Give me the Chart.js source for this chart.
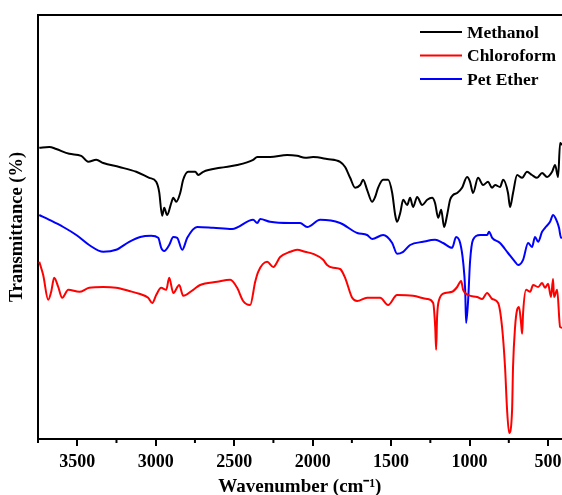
<!DOCTYPE html>
<html>
<head>
<meta charset="utf-8">
<script src="https://cdn.jsdelivr.net/npm/chart.js@4.4.0/dist/chart.umd.min.js"></script>
<style>
  body { margin: 0; background: #fff; }
  #wrap { width: 562px; height: 495px; }
</style>
</head>
<body>
<div id="wrap"><canvas id="ftirCanvas"></canvas></div>
<script>
// FTIR spectra (wavenumber in cm-1, transmittance in arbitrary %)
const methanolWn = [3742,3678,3634,3551,3475,3430,3379,3334,3232,3124,3041,2997,2978,2959,2946,2927,2901,2888,2869,2844,2825,2793,2748,2729,2697,2589,2481,2379,2353,2271,2162,2099,2048,1997,1908,1825,1793,1761,1729,1697,1678,1653,1621,1602,1583,1551,1519,1493,1474,1462,1442,1423,1398,1379,1360,1334,1302,1270,1239,1220,1200,1181,1162,1143,1124,1105,1079,1048,1016,997,978,946,914,882,857,837,806,786,755,742,723,697,665,634,602,570,538,506,474,455,436,423,411];
const methanolT = [72.8,73,72.5,71.3,70.8,69.3,69.8,69,68,66.8,65.3,64.3,61.8,55.8,57.8,56,59,60.3,59.3,61.5,64.8,66.8,66.8,66,66.8,67.8,68.5,69.8,70.5,70.5,71,70.8,70.3,70.5,70,69.3,68,65.3,62.8,63.5,64.8,62.3,59.3,60.5,62.8,64.8,64.8,61.5,56,54.3,56.5,59.8,58.5,60.3,58,60.5,58.5,59.8,60.3,59,55.3,57.3,53,56,59.8,61,61.5,62.8,65.5,64.3,61.5,65.3,63.5,64.3,62.8,63.5,63,64.8,61.5,58,61.5,66,65.3,66.8,66,65.3,66.5,65.5,66.8,68.5,65.5,74,73.5];

const chloroformWn = [3742,3717,3685,3666,3647,3621,3596,3557,3487,3424,3334,3252,3169,3105,3048,3022,2997,2965,2933,2914,2888,2850,2825,2761,2717,2608,2525,2481,2443,2398,2366,2347,2290,2251,2207,2143,2099,2048,1997,1933,1908,1869,1825,1793,1748,1716,1653,1570,1519,1462,1360,1270,1232,1219,1213,1207,1194,1156,1111,1079,1054,1041,1009,952,920,888,856,818,793,774,761,748,729,723,710,697,685,672,665,659,640,614,595,563,538,519,500,481,468,462,442,423,411];
const chloroformT = [44.3,41,34.8,36.8,40.3,38,35.3,37.3,36.8,37.8,38,37.8,37,36.3,35.3,34,36,37.8,37.3,40.3,36.5,38.5,35.8,37.3,38.5,39.3,39.8,37.8,34.5,33.5,39.3,41.8,44.3,43,45.5,46.8,47.3,46.8,46.3,44.8,43.5,42.8,42.5,40.3,35.3,34.5,35.3,35.3,33.5,36,35.8,35,34,28,22.3,30.5,34.8,36.5,36.8,38,39.5,37.3,36,35.5,35,36.5,35,34,28,18,7.3,1.5,7.3,18,28,32.3,33,29,26.3,31.5,37.3,36.8,38.5,38,39,37.8,38.8,35.5,40,35.5,37.3,28,27.8];

const petEtherWn = [3742,3678,3589,3506,3424,3334,3252,3169,3099,3029,2984,2965,2946,2914,2888,2863,2831,2799,2736,2634,2513,2379,2353,2334,2271,2143,2080,2035,1952,1825,1716,1653,1621,1551,1493,1462,1423,1379,1296,1220,1169,1111,1086,1060,1041,1028,1022,1009,997,978,933,888,876,856,806,755,710,691,659,627,602,583,563,538,519,487,468,442,430,417,411];
const petEtherT = [56,54.8,53,51,48.5,46.8,47.3,49.3,50.5,50.8,50.3,47.8,47,48.5,50.5,50.3,47.3,50.3,53,52.8,52.5,54.8,54,55,54.3,54,54,53,54.8,54,51.5,51,50,51,49,46.3,46.8,48.5,49.3,49.8,49,47.8,50.5,49,44.3,37.3,29,34.8,44.3,49.8,51,51,51.8,50.3,49,46.5,44.3,43.5,44.8,49,48,50.5,49.3,51.8,52.8,54.3,56,54.3,52.8,50.3,50.5];

const majorTicks = [500, 1000, 1500, 2000, 2500, 3000, 3500];
const minorTicks = [750, 1250, 1750, 2250, 2750, 3250, 3750];

function toPoints(xs, ys) {
  return xs.map((x, i) => ({ x: x, y: ys[i] }));
}

const serif = "'Liberation Serif', 'Times New Roman', serif";

// petite légende dans le coin haut droit
const cornerLegend = {
  id: 'cornerLegend',
  afterDraw(chart) {
    const ctx = chart.ctx;
    ctx.save();
    ctx.font = "bold 17.5px " + serif;
    ctx.textBaseline = 'middle';
    chart.data.datasets.forEach((ds, i) => {
      const y = 32 + i * 23.5;
      ctx.strokeStyle = ds.borderColor;
      ctx.lineWidth = 2;
      ctx.beginPath();
      ctx.moveTo(420, y);
      ctx.lineTo(462, y);
      ctx.stroke();
      ctx.fillStyle = '#000';
      ctx.fillText(ds.label, 467, y + 1);
    });
    ctx.restore();
  }
};

// petites graduations intermédiaires
const minorTickMarks = {
  id: 'minorTickMarks',
  afterDraw(chart) {
    const xs = chart.scales.x;
    const ctx = chart.ctx;
    ctx.save();
    ctx.strokeStyle = '#000';
    ctx.lineWidth = 2;
    minorTicks.forEach(v => {
      const px = xs.getPixelForValue(v);
      if (px < chart.chartArea.left) return;
      ctx.beginPath();
      ctx.moveTo(px, chart.chartArea.bottom);
      ctx.lineTo(px, chart.chartArea.bottom + 4);
      ctx.stroke();
    });
    ctx.restore();
  }
};

const ftirChart = new Chart(document.getElementById('ftirCanvas'), {
  type: 'line',
  data: {
    datasets: [
      { label: 'Methanol', data: toPoints(methanolWn, methanolT), borderColor: '#000000' },
      { label: 'Chloroform', data: toPoints(chloroformWn, chloroformT), borderColor: '#ff0000' },
      { label: 'Pet Ether', data: toPoints(petEtherWn, petEtherT), borderColor: '#0000ff' }
    ]
  },
  options: {
    responsive: true,
    maintainAspectRatio: false,
    animation: false,
    layout: { padding: { top: 15, right: 0, bottom: -2, left: 6.5 } },
    elements: {
      point: { radius: 0 },
      line: { borderWidth: 2, tension: 0.3, cubicInterpolationMode: 'monotone', fill: false }
    },
    plugins: { legend: { display: false }, tooltip: { enabled: false } },
    scales: {
      x: {
        type: 'linear',
        reverse: true,
        min: 411,
        max: 3752,
        afterBuildTicks: (scale) => { scale.ticks = majorTicks.map(v => ({ value: v })); },
        ticks: {
          color: '#000',
          font: { family: serif, size: 18, weight: 'bold', lineHeight: 1 },
          padding: 7,
          maxRotation: 0,
          callback: (v) => String(v)
        },
        grid: { drawOnChartArea: false, tickLength: 7, lineWidth: 2, color: '#000' },
        border: { display: true, width: 2, color: '#000' },
        title: {
          display: true,
          text: 'Wavenumber (cm⁻¹)',
          color: '#000',
          font: { family: serif, size: 19, weight: 'bold', lineHeight: 1 },
          padding: { top: 0, bottom: 0 }
        }
      },
      xTop: {
        type: 'linear',
        position: 'top',
        reverse: true,
        min: 411,
        max: 3752,
        ticks: { display: false },
        grid: { drawOnChartArea: false, drawTicks: false },
        border: { display: true, width: 2, color: '#000' }
      },
      y: {
        min: 0,
        max: 106,
        ticks: { display: false },
        grid: { drawOnChartArea: false, drawTicks: false },
        border: { display: true, width: 2, color: '#000' },
        title: {
          display: true,
          text: 'Transmittance (%)',
          color: '#000',
          font: { family: serif, size: 18.5, weight: 'bold' },
          padding: { top: 0, bottom: 9 }
        }
      }
    }
  },
  plugins: [cornerLegend, minorTickMarks]
});
</script>
</body>
</html>
